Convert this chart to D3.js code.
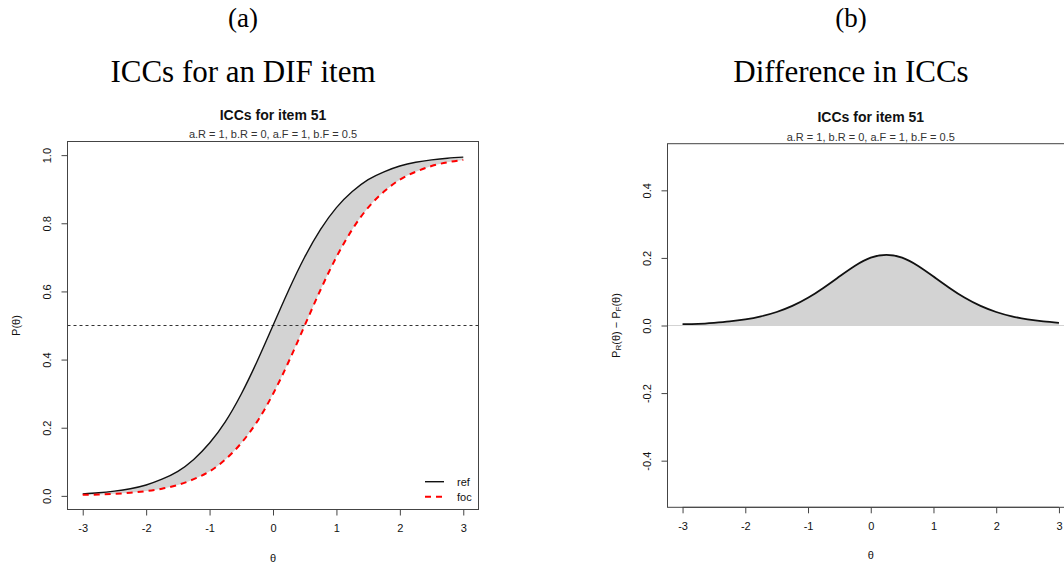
<!DOCTYPE html>
<html>
<head>
<meta charset="utf-8">
<script src="https://cdn.jsdelivr.net/npm/d3@7"></script>
<style>
  html, body { margin: 0; padding: 0; background: #fff; }
  svg { display: block; }
  .sans { font-family: "Liberation Sans", Arial, Helvetica, sans-serif; }
  .serif { font-family: "Liberation Serif", "Times New Roman", serif; }
</style>
</head>
<body>
<svg id="chart" width="1064" height="566"></svg>
<script>
// ---- data ----
const theta = [-3, -2.75, -2.5, -2.25, -2, -1.75, -1.5, -1.25, -1, -0.75, -0.5, -0.25,
               0, 0.25, 0.5, 0.75, 1, 1.25, 1.5, 1.75, 2, 2.25, 2.5, 2.75, 3];
const pRef = [0.006, 0.009, 0.014, 0.021, 0.032, 0.049, 0.072, 0.107, 0.155, 0.218, 0.299, 0.395,
              0.500, 0.605, 0.701, 0.782, 0.846, 0.893, 0.928, 0.951, 0.968, 0.979, 0.986, 0.991, 0.994];
const pFoc = [0.003, 0.004, 0.006, 0.009, 0.014, 0.021, 0.032, 0.049, 0.072, 0.107, 0.155, 0.218,
              0.299, 0.395, 0.500, 0.605, 0.701, 0.782, 0.846, 0.893, 0.928, 0.951, 0.968, 0.979, 0.986];
const pDiff = [0.004, 0.005, 0.008, 0.012, 0.018, 0.027, 0.040, 0.058, 0.082, 0.112, 0.145, 0.177,
               0.201, 0.209, 0.201, 0.177, 0.145, 0.112, 0.082, 0.058, 0.040, 0.027, 0.018, 0.012, 0.008];
const xTicks = [-3, -2, -1, 0, 1, 2, 3];
const yTicksA = [0, 0.2, 0.4, 0.6, 0.8, 1.0];
const yTicksB = [-0.4, -0.2, 0, 0.2, 0.4];
const cutLine = 0.5;
const legendLabels = ["ref", "foc"];
const captions = [["(a)", "ICCs for an DIF item"], ["(b)", "Difference in ICCs"]];
const plotTitle = "ICCs for item 51";
const plotSub = "a.R = 1, b.R = 0, a.F = 1, b.F = 0.5";

const svg = d3.select("#chart");
const AX = "#444";
const CURVE = d3.curveNatural;

function panel(opt) {
  const x = d3.scaleLinear().domain([-3.24, 3.24]).range([opt.left, opt.right]);
  const y = d3.scaleLinear().domain(opt.ydom).range([opt.bottom, opt.top]);
  return {x, y};
}

function drawAxes(g, x, y, o, yTicks, yFmt) {
  g.append("rect").attr("x", o.left).attr("y", o.top)
    .attr("width", o.right - o.left).attr("height", o.bottom - o.top)
    .attr("fill", "none").attr("stroke", AX).attr("stroke-width", 1);
  const xa = g.append("g").attr("transform", `translate(0,${o.bottom})`)
    .call(d3.axisBottom(x).tickValues(xTicks).tickSize(6).tickPadding(9)
      .tickFormat(d => d < 0 ? "-" + Math.abs(d) : String(d)));
  xa.select(".domain").attr("d", `M${x(-3)},0H${x(3)}`).attr("stroke", AX);
  xa.selectAll(".tick line").attr("stroke", AX);
  xa.selectAll("text").attr("class", "sans").style("font-size", "11px").attr("fill", "#111");
  const ya = g.append("g").attr("transform", `translate(${o.left},0)`)
    .call(d3.axisLeft(y).tickValues(yTicks).tickSize(6).tickFormat(yFmt));
  ya.select(".domain").attr("d", `M0,${y(yTicks[0])}V${y(yTicks[yTicks.length-1])}`).attr("stroke", AX);
  ya.selectAll(".tick line").attr("stroke", AX);
  ya.selectAll(".tick text").attr("class", "sans").style("font-size", "11px").attr("fill", "#111")
    .attr("text-anchor", "middle").attr("x", null).attr("dy", null)
    .attr("transform", "translate(-20.5,0) rotate(-90)").attr("y", 0).attr("dominant-baseline", "central");
  const cx = (o.left + o.right) / 2;
  g.append("text").attr("class", "sans").attr("x", cx).attr("y", o.top - 21.5)
    .attr("text-anchor", "middle").style("font-size", "14px").style("font-weight", "bold")
    .attr("fill", "#111").text(plotTitle);
  g.append("text").attr("class", "sans").attr("x", cx).attr("y", o.top - 3.2)
    .attr("text-anchor", "middle").style("font-size", "11px").attr("fill", "#333").text(plotSub);
  g.append("text").attr("class", "sans").attr("x", cx).attr("y", o.bottom + 52)
    .attr("text-anchor", "middle").style("font-size", "11px").attr("fill", "#111").text("\u03b8");
}

function fmt1(d) { return d < 0 ? "-" + Math.abs(d).toFixed(1) : d.toFixed(1); }

// ---------- Panel (a) ----------
const oA = {left: 67.5, right: 478.5, top: 141.5, bottom: 509.5, ydom: [-0.04, 1.04]};
const gA = svg.append("g");
const sA = panel(oA);
const ptsRef = theta.map((t, i) => [t, pRef[i]]);
const ptsFoc = theta.map((t, i) => [t, pFoc[i]]);
// fill between curves: upper edge along ref, lower edge back along foc
const lineA = d3.line().curve(CURVE).x(d => sA.x(d[0])).y(d => sA.y(d[1]));
const fillPath = lineA(ptsRef) + "L" + lineA(ptsFoc.slice().reverse()).slice(1) + "Z";
gA.append("path").attr("d", fillPath).attr("fill", "#d3d3d3");
gA.append("line").attr("x1", oA.left).attr("x2", oA.right)
  .attr("y1", sA.y(cutLine)).attr("y2", sA.y(cutLine))
  .attr("stroke", "#333").attr("stroke-width", 1).attr("stroke-dasharray", "3,3");
gA.append("path").datum(ptsRef).attr("d", lineA).attr("fill", "none")
  .attr("stroke", "#111").attr("stroke-width", 1.4);
gA.append("path").datum(ptsFoc).attr("d", lineA).attr("fill", "none")
  .attr("stroke", "#ff0000").attr("stroke-width", 2).attr("stroke-dasharray", "6,5");
drawAxes(gA, sA.x, sA.y, oA, yTicksA, fmt1);
gA.append("text").attr("class", "sans").attr("x", 16).attr("y", (oA.top + oA.bottom) / 2)
  .attr("transform", `rotate(-90,16,${(oA.top + oA.bottom) / 2})`)
  .attr("text-anchor", "middle").attr("dominant-baseline", "central")
  .style("font-size", "11px").attr("fill", "#111").text("P(\u03b8)");
const legY = [481.7, 496.7];
legendLabels.forEach((lab, i) => {
  gA.append("line").attr("x1", 425).attr("x2", 444).attr("y1", legY[i]).attr("y2", legY[i])
    .attr("stroke", i === 0 ? "#111" : "#ff0000").attr("stroke-width", i === 0 ? 1.4 : 2)
    .attr("stroke-dasharray", i === 0 ? null : "6,5");
  gA.append("text").attr("class", "sans").attr("x", 457).attr("y", legY[i] + 4)
    .style("font-size", "11px").attr("fill", "#111").text(lab);
});

// ---------- Panel (b) ----------
const oB = {left: 667.5, right: 1074, top: 143.7, bottom: 507.3, ydom: [-0.538, 0.538]};
const gB = svg.append("g");
const sB = panel(oB);
const areaB = d3.area().curve(CURVE)
  .x((d, i) => sB.x(theta[i])).y0(sB.y(0)).y1(d => sB.y(d));
gB.append("path").datum(pDiff).attr("d", areaB).attr("fill", "#d3d3d3");
gB.append("line").attr("x1", oB.left).attr("x2", oB.right)
  .attr("y1", sB.y(0)).attr("y2", sB.y(0)).attr("stroke", "#d3d3d3").attr("stroke-width", 1);
const lineB = d3.line().curve(CURVE).x((d, i) => sB.x(theta[i])).y(d => sB.y(d));
gB.append("path").datum(pDiff).attr("d", lineB).attr("fill", "none")
  .attr("stroke", "#111").attr("stroke-width", 1.8);
drawAxes(gB, sB.x, sB.y, oB, yTicksB, fmt1);
const ytB = gB.append("text").attr("class", "sans")
  .attr("transform", `translate(616,${(oB.top + oB.bottom) / 2}) rotate(-90)`)
  .attr("text-anchor", "middle").attr("dominant-baseline", "central")
  .style("font-size", "11px").attr("fill", "#111");
ytB.append("tspan").text("P");
ytB.append("tspan").attr("baseline-shift", "-25%").style("font-size", "8px").text("R");
ytB.append("tspan").text("(\u03b8) \u2212 P");
ytB.append("tspan").attr("baseline-shift", "-25%").style("font-size", "8px").text("F");
ytB.append("tspan").text("(\u03b8)");

// ---------- captions ----------
const capX = [243, 851];
captions.forEach((c, i) => {
  svg.append("text").attr("class", "serif").attr("x", capX[i]).attr("y", 27)
    .attr("text-anchor", "middle").style("font-size", "27px").attr("fill", "#000").text(c[0]);
  svg.append("text").attr("class", "serif").attr("x", capX[i]).attr("y", 82)
    .attr("text-anchor", "middle").style("font-size", "31px").attr("fill", "#000").text(c[1]);
});
</script>
</body>
</html>
